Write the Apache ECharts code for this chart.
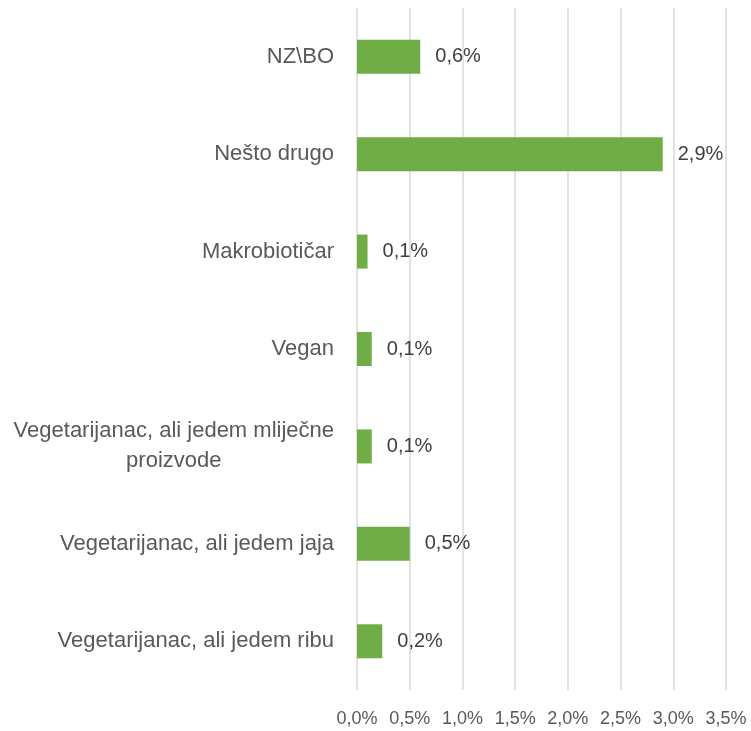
<!DOCTYPE html>
<html>
<head>
<meta charset="utf-8">
<script src="https://cdn.jsdelivr.net/npm/echarts@6/dist/echarts.min.js"></script>
<style>
  html, body { margin: 0; padding: 0; background: #fff; }
  #main { width: 751px; height: 731px; }
</style>
</head>
<body>
<div id="main"></div>
<script>
// kategorije odozdo prema gore (kategorijska os ide od dna)
var categories = [
  'Vegetarijanac, ali jedem ribu',
  'Vegetarijanac, ali jedem jaja',
  'Vegetarijanac, ali jedem mliječne\nproizvode',
  'Vegan',
  'Makrobiotičar',
  'Nešto drugo',
  'NZ\\BO'
];
var values = [0.24, 0.5, 0.14, 0.14, 0.1, 2.9, 0.6];
var xTicks = [0, 0.5, 1, 1.5, 2, 2.5, 3, 3.5];

var chart = echarts.init(document.getElementById('main'));

function pct(v) {
  return v.toFixed(1).replace('.', ',') + '%';
}

var option = {
  animation: false,
  grid: {
    left: 357,
    right: 25,
    top: 8,
    bottom: 41,
    containLabel: false
  },
  xAxis: {
    type: 'value',
    min: xTicks[0],
    max: xTicks[xTicks.length - 1],
    interval: 0.5,
    axisLine: { show: false },
    axisTick: { show: false },
    splitLine: { show: true, lineStyle: { color: '#d9d9d9', width: 1.5 } },
    axisLabel: {
      margin: 20,
      color: '#595959',
      fontSize: 18,
      fontFamily: 'Liberation Sans',
      formatter: function (v) { return pct(v); }
    }
  },
  yAxis: {
    type: 'category',
    data: categories,
    axisLine: { show: false },
    axisTick: { show: false },
    axisLabel: {
      margin: 23,
      color: '#595959',
      fontSize: 22,
      lineHeight: 30,
      fontFamily: 'Liberation Sans',
      formatter: function (v) {
        if (v.indexOf('\n') < 0) return v;
        // dvoredni natpis centriran kao u originalu
        return v.split('\n').map(function (s) { return '{c|' + s + '}'; }).join('\n');
      },
      rich: {
        c: {
          align: 'center',
          color: '#595959',
          fontSize: 22,
          lineHeight: 30,
          fontFamily: 'Liberation Sans'
        }
      }
    }
  },
  series: [
    {
      type: 'bar',
      data: values,
      barWidth: 34,
      itemStyle: { color: '#70ad47' },
      label: {
        show: true,
        position: 'right',
        distance: 15,
        color: '#404040',
        fontSize: 20,
        fontFamily: 'Liberation Sans',
        formatter: function (p) { return pct(p.value); }
      }
    }
  ]
};

chart.setOption(option);
</script>
</body>
</html>
